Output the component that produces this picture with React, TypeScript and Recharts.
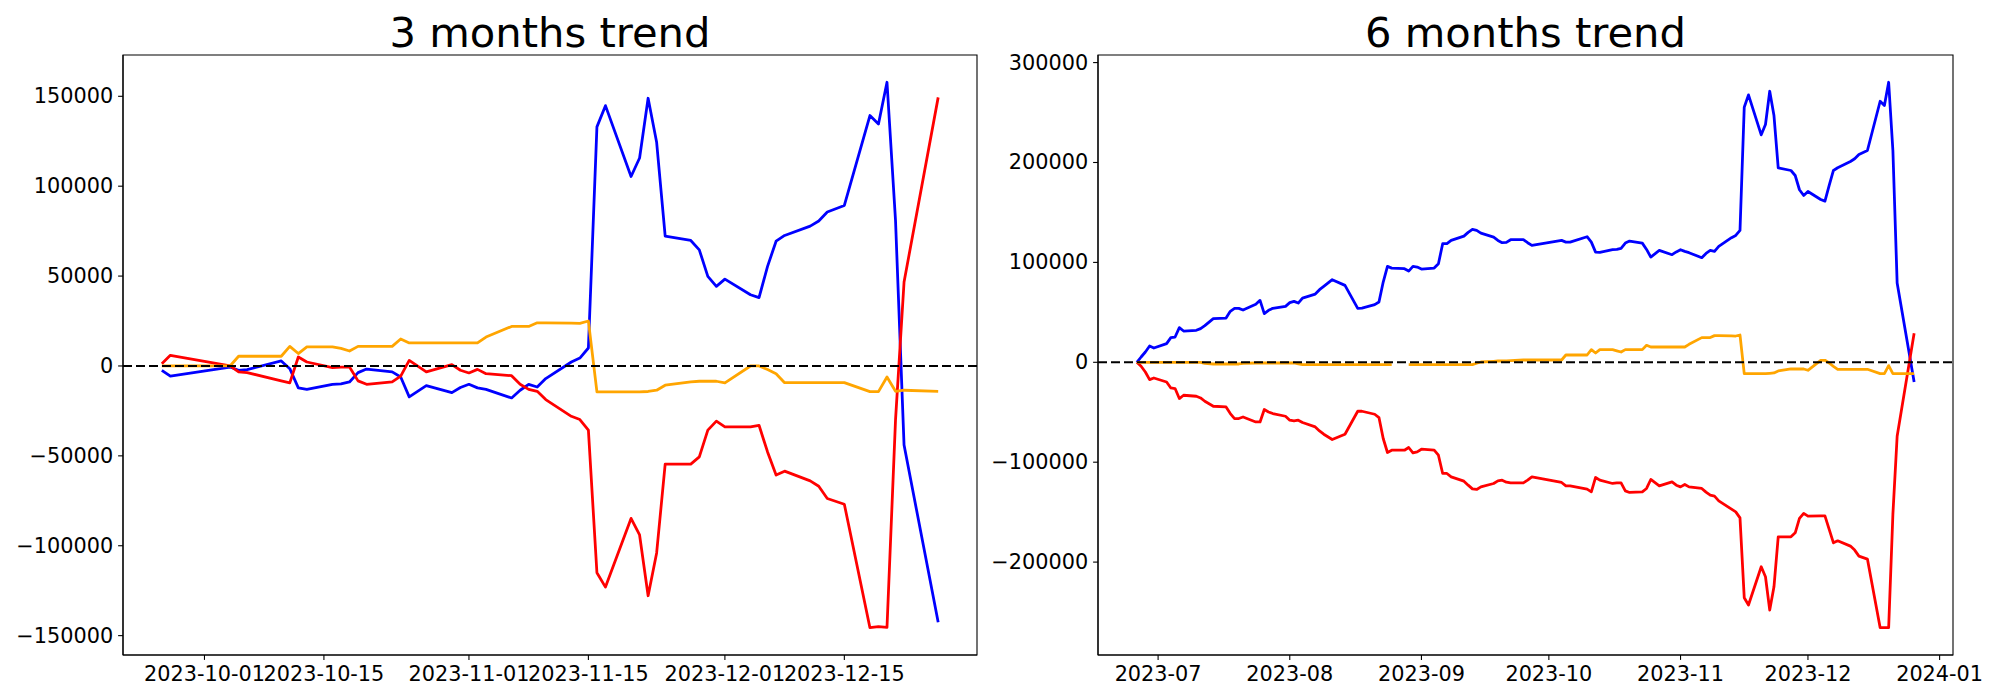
import React from 'react';
import { LineChart, Line, XAxis, YAxis, ReferenceLine, ReferenceArea } from 'recharts';

const FONT = '"DejaVu Sans", "Liberation Sans", sans-serif';

// ---- 3 months panel ----
const LEFT_DATES = [
  '2023-09-26', '2023-09-27', '2023-10-04', '2023-10-05', '2023-10-06', '2023-10-10', '2023-10-11', '2023-10-12',
  '2023-10-13', '2023-10-16', '2023-10-17', '2023-10-18', '2023-10-19', '2023-10-20', '2023-10-23', '2023-10-24',
  '2023-10-25', '2023-10-27', '2023-10-30', '2023-10-31', '2023-11-01', '2023-11-02', '2023-11-03', '2023-11-06',
  '2023-11-07', '2023-11-08', '2023-11-09', '2023-11-10', '2023-11-13', '2023-11-14', '2023-11-15', '2023-11-16',
  '2023-11-17', '2023-11-20', '2023-11-21', '2023-11-22', '2023-11-23', '2023-11-24', '2023-11-27', '2023-11-28',
  '2023-11-29', '2023-11-30', '2023-12-01', '2023-12-04', '2023-12-05', '2023-12-06', '2023-12-07', '2023-12-08',
  '2023-12-11', '2023-12-12', '2023-12-13', '2023-12-15', '2023-12-18', '2023-12-19', '2023-12-20', '2023-12-21',
  '2023-12-22', '2023-12-26',
];
const LEFT_BLUE = [
  -2400, -5700, -600, -2400, -2000, 2800, -1500, -12200, -13000, -10200, -10000, -8900, -3700, -1700, -3300, -6100,
  -17200, -10900, -14800, -12000, -10200, -12200, -13000, -17800, -13500, -10200, -11700, -7000, 2200, 4400, 10000,
  133000, 144800, 105400, 115700, 148900, 124400, 72200, 69800, 64600, 49800, 44300, 48300, 39600, 38000, 55400,
  69400, 72600, 77800, 80600, 85600, 89300, 139300, 134600, 157800, 80900, -44000, -142600,
];
const LEFT_RED = [
  1300, 5900, 0, -3300, -3700, -8300, -9400, 5000, 2200, -900, -600, -600, -8300, -10200, -8900, -5700,
  3100, -3300, 700, -2400, -3900, -1900, -4300, -5400, -10200, -13000, -14100, -18700, -28000, -29800, -35700,
  -115000, -123000, -84800, -94000, -127800, -104000, -54600, -54600, -50600, -35700, -30700, -33900, -33900, -33000, -47800,
  -60700, -58500, -63900, -66900, -73700, -76900, -145600, -145000, -145400, -30000, 46700, 149400,
];
const LEFT_ORANGE = [
  0, 0, 0, 5400, 5400, 5400, 10900, 6900, 10600, 10600, 9800, 8300, 10900, 10900, 10900, 15000,
  12800, 12800, 12800, 12800, 12800, 12800, 16100, 22000, 22000, 22000, 24000, 24000, 23800, 23700, 25000,
  -14400, -14400, -14400, -14400, -14200, -13500, -10700, -8900, -8500, -8500, -8500, -9400, 0, 0, -2000,
  -4300, -9300, -9300, -9300, -9300, -9300, -14300, -14300, -6100, -14100, -13500, -14100,
];
const LEFT_X_TICKS = ['2023-10-01', '2023-10-15', '2023-11-01', '2023-11-15', '2023-12-01', '2023-12-15'];
const LEFT_Y_TICKS = [-150000, -100000, -50000, 0, 50000, 100000, 150000];

// ---- 6 months panel ----
const RIGHT_DATES = [
  '2023-06-26', '2023-06-27', '2023-06-28', '2023-06-29', '2023-06-30', '2023-07-03', '2023-07-04', '2023-07-05',
  '2023-07-06', '2023-07-07', '2023-07-10', '2023-07-11', '2023-07-12', '2023-07-14', '2023-07-17', '2023-07-18',
  '2023-07-19', '2023-07-20', '2023-07-21', '2023-07-24', '2023-07-25', '2023-07-26', '2023-07-27', '2023-07-28',
  '2023-07-31', '2023-08-01', '2023-08-02', '2023-08-03', '2023-08-04', '2023-08-07', '2023-08-08', '2023-08-09',
  '2023-08-11', '2023-08-14', '2023-08-17', '2023-08-18', '2023-08-21', '2023-08-22', '2023-08-23', '2023-08-24',
  '2023-08-25', '2023-08-28', '2023-08-29', '2023-08-30', '2023-08-31', '2023-09-01', '2023-09-04', '2023-09-05',
  '2023-09-06', '2023-09-07', '2023-09-08', '2023-09-11', '2023-09-12', '2023-09-13', '2023-09-14', '2023-09-15',
  '2023-09-18', '2023-09-19', '2023-09-20', '2023-09-21', '2023-09-22', '2023-09-25', '2023-09-26', '2023-09-27',
  '2023-10-04', '2023-10-05', '2023-10-06', '2023-10-10', '2023-10-11', '2023-10-12', '2023-10-13', '2023-10-16',
  '2023-10-17', '2023-10-18', '2023-10-19', '2023-10-20', '2023-10-23', '2023-10-24', '2023-10-25', '2023-10-27',
  '2023-10-30', '2023-10-31', '2023-11-01', '2023-11-02', '2023-11-03', '2023-11-06', '2023-11-07', '2023-11-08',
  '2023-11-09', '2023-11-10', '2023-11-13', '2023-11-14', '2023-11-15', '2023-11-16', '2023-11-17', '2023-11-20',
  '2023-11-21', '2023-11-22', '2023-11-23', '2023-11-24', '2023-11-27', '2023-11-28', '2023-11-29', '2023-11-30',
  '2023-12-01', '2023-12-04', '2023-12-05', '2023-12-06', '2023-12-07', '2023-12-08', '2023-12-11', '2023-12-12',
  '2023-12-13', '2023-12-14', '2023-12-15', '2023-12-18', '2023-12-19', '2023-12-20', '2023-12-21', '2023-12-22',
  '2023-12-26',
];
const RIGHT_BLUE = [
  0, 5300, 10300, 16300, 14300, 18700, 24700, 25300, 34700, 31300, 32000, 33700, 36700, 43700, 44300, 51000,
  54000, 54000, 52300, 58000, 62000, 48700, 52000, 54000, 56000, 59700, 61000, 59300, 64300, 68300, 72700, 76000,
  82700, 77000, 54000, 54300, 57700, 60300, 80300, 96000, 94300, 93700, 91300, 96000, 95300, 93300, 94300, 98700,
  118700, 118700, 122000, 126300, 130000, 133000, 132000, 129300, 125300, 122000, 119700, 120000, 122700, 122700, 119700, 117000,
  122000, 120300, 120300, 125700, 120300, 110300, 110000, 112700, 113000, 114000, 119300, 121300, 119300, 113000, 105300, 112000,
  107700, 110500, 112700, 111000, 109700, 104700, 109000, 112000, 111000, 116000, 124700, 127000, 132000, 255300, 267700, 227700,
  238000, 271300, 247000, 194700, 192000, 187000, 172700, 167000, 171000, 163000, 161300, 177000, 192000, 194700, 201000, 203700,
  208000, 210000, 212000, 261300, 257000, 280300, 212000, 79300, -19700,
];
const RIGHT_RED = [
  0, -4000, -9700, -17300, -15700, -19700, -25700, -26300, -36300, -33000, -34000, -35700, -39000, -44000, -44700, -51300,
  -56300, -56300, -54700, -59700, -59700, -47300, -49700, -51300, -54000, -58000, -58700, -58000, -60300, -64700, -68700, -72000,
  -77300, -72000, -49000, -49000, -52000, -55300, -76300, -90300, -88000, -88000, -85300, -90700, -89700, -87000, -88000, -93000,
  -111300, -111300, -114700, -119000, -123000, -126700, -127300, -124700, -121300, -118700, -118000, -120000, -120700, -120700, -118000, -114700,
  -120300, -123700, -123700, -127000, -129700, -115300, -118000, -121300, -120800, -120700, -128700, -130300, -129700, -126300, -117300, -123700,
  -119700, -123000, -124700, -122300, -124700, -126300, -130000, -133000, -134000, -138700, -147000, -149700, -155700, -235700, -243000, -204700,
  -214700, -248000, -224700, -174700, -174700, -170700, -156300, -151300, -154000, -153700, -153700, -167300, -180700, -178700, -184000, -188000,
  -194000, -195500, -197000, -265700, -265700, -265700, -152000, -74000, 29000,
];
const RIGHT_ORANGE = [
  0, 0, 0, 0, 0, 0, 0, 0, 0, 0, 0, 0, -1000, -1700, -1700, -1700,
  -1700, -1700, -1000, -700, -700, -700, -700, -700, -700, -700, -700, -1500, -2300, -2300, -2300, -2300,
  -2300, -2300, -2300, -2300, -2300, -2300, -2300, -2300, -2300, null, -2300, -2300, -2300, -2300, -2300, -2300,
  -2300, -2300, -2300, -2300, -2300, -2300, -1000, 300, 1000, 1300, 1300, 1500, 1700, 2300, 2300, 2300,
  2300, 7300, 7300, 7300, 12700, 9300, 12700, 12700, 11500, 10300, 12700, 12700, 12700, 17000, 15300, 15300,
  15300, 15300, 15300, 15300, 18000, 24700, 24700, 24700, 26700, 26700, 26500, 26300, 27300, -11300, -11300, -11300,
  -11300, -11000, -10700, -8700, -6700, -6700, -6700, -6700, -8000, 2000, 2000, -700, -4000, -7000, -7000, -7000,
  -7000, -7000, -7000, -11300, -11300, -3300, -11300, -11300, -11300,
];
const RIGHT_X_TICKS = ['2023-07-01', '2023-08-01', '2023-09-01', '2023-10-01', '2023-11-01', '2023-12-01', '2024-01-01'];
const RIGHT_Y_TICKS = [-200000, -100000, 0, 100000, 200000, 300000];

type Row = { t: number; blue: number | null; red: number | null; orange: number | null };

const buildRows = (dates: string[], blue: (number | null)[], red: (number | null)[], orange: (number | null)[]): Row[] =>
  dates.map((d, i) => ({ t: Date.parse(d), blue: blue[i], red: red[i], orange: orange[i] }));

const padded = (lo: number, hi: number): [number, number] => {
  const s = hi - lo;
  return [lo - 0.05 * s, hi + 0.05 * s];
};

const AXIS = { stroke: '#000', strokeWidth: 1.1 };

const minusFmt = (v: number) => (v < 0 ? '\u2212' + String(-v) : String(v));

interface PanelProps {
  title: string;
  rows: Row[];
  xTicks: string[];
  yTicks: number[];
  dateLen: number;
  width: number;
  yAxisWidth: number;
  marginRight: number;
}

const Panel: React.FC<PanelProps> = ({ title, rows, xTicks, yTicks, dateLen, width, yAxisWidth, marginRight }) => {
  const ts = rows.map(r => r.t);
  const xDomain = padded(Math.min(...ts), Math.max(...ts));
  const vals: number[] = [];
  rows.forEach(r => [r.blue, r.red, r.orange].forEach(v => { if (v !== null) vals.push(v); }));
  const yDomain = padded(Math.min(...vals), Math.max(...vals));
  const tickTs = xTicks.map(d => Date.parse(d));
  const cx = yAxisWidth + (width - yAxisWidth - marginRight) / 2;

  const XTick = (p: any) => (
    <text x={p.x} y={p.y + 16.2} textAnchor="middle" fontFamily={FONT} fontSize={20.8} fill="#000">
      {new Date(p.payload.value).toISOString().slice(0, dateLen)}
    </text>
  );
  const YTick = (p: any) => (
    <text x={p.x} y={p.y + 7} textAnchor="end" fontFamily={FONT} fontSize={20.8} fill="#000">
      {minusFmt(p.payload.value)}
    </text>
  );

  const lineProps = {
    type: 'linear' as const,
    strokeWidth: 2.78,
    dot: false,
    activeDot: false,
    isAnimationActive: false,
    strokeLinejoin: 'round' as const,
  };

  return (
    <div style={{ position: 'relative', width, height: 700 }}>
      <LineChart width={width} height={700} data={rows} margin={{ top: 55, right: marginRight, bottom: 0, left: 0 }}>
        <XAxis
          dataKey="t" type="number" scale="linear" domain={xDomain} allowDataOverflow ticks={tickTs} interval={0}
          height={45} tickSize={4.9} tickMargin={4.9} axisLine={AXIS} tickLine={AXIS} tick={XTick}
        />
        <YAxis
          type="number" domain={yDomain} allowDataOverflow ticks={yTicks} interval={0} width={yAxisWidth}
          tickSize={4.9} tickMargin={4.9} axisLine={AXIS} tickLine={AXIS} tick={YTick}
        />
        {/* full frame like the matplotlib spines */}
        <ReferenceArea
          x1={xDomain[0]} x2={xDomain[1]} y1={yDomain[0]} y2={yDomain[1]}
          fill="none" fillOpacity={0} stroke="#000" strokeWidth={1.1} ifOverflow="visible"
        />
        <Line dataKey="blue" stroke="#0000ff" {...lineProps} />
        <Line dataKey="red" stroke="#ff0000" {...lineProps} />
        <Line dataKey="orange" stroke="#ffa500" {...lineProps} />
        <ReferenceLine y={0} stroke="#000" strokeWidth={2.08} strokeDasharray="9 4" />
      </LineChart>
      <svg width={width} height={60} style={{ position: 'absolute', left: 0, top: 0, pointerEvents: 'none' }}>
        <text x={cx} y={46.7} textAnchor="middle" fontFamily={FONT} fontSize={41.67} fill="#000">{title}</text>
      </svg>
    </div>
  );
};

const App: React.FC = () => {
  const leftRows = buildRows(LEFT_DATES, LEFT_BLUE, LEFT_RED, LEFT_ORANGE);
  const rightRows = buildRows(RIGHT_DATES, RIGHT_BLUE, RIGHT_RED, RIGHT_ORANGE);
  return (
    <div style={{ position: 'absolute', left: 0, top: 0, width: 2000, height: 700, background: '#fff', overflow: 'hidden' }}>
      <div style={{ position: 'absolute', left: 0, top: 0 }}>
        <Panel title="3 months trend" rows={leftRows} xTicks={LEFT_X_TICKS} yTicks={LEFT_Y_TICKS} dateLen={10}
          width={990} yAxisWidth={123} marginRight={13} />
      </div>
      <div style={{ position: 'absolute', left: 990, top: 0 }}>
        <Panel title="6 months trend" rows={rightRows} xTicks={RIGHT_X_TICKS} yTicks={RIGHT_Y_TICKS} dateLen={7}
          width={1010} yAxisWidth={108} marginRight={47} />
      </div>
    </div>
  );
};

export default App;
